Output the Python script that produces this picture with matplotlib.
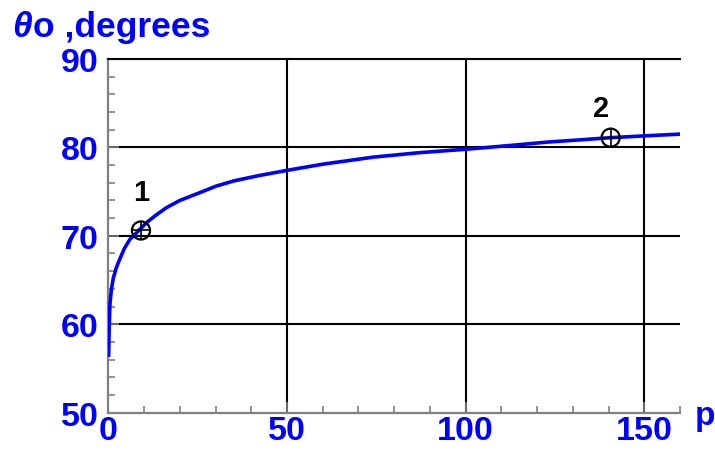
import numpy as np
import matplotlib
matplotlib.use("Agg")
import matplotlib.pyplot as plt
from matplotlib.ticker import MultipleLocator

# curve
p_vals = [0.05, 0.2, 0.4, 0.8, 1.35, 2.2, 3.2, 4.5, 6.0, 7.5, 8.8, 11.0, 13.5, 16.3, 20.0,
          25.7, 30.0, 35.0, 42.0, 50.0, 60.0, 74.2, 87.0, 100.4, 112.0, 122.9, 132.0,
          140.6, 150.0, 160.0]
theta_vals = [56.5, 59.6, 62.2, 63.9, 65.2, 66.4, 67.4, 68.6, 69.6, 70.2, 70.75, 71.6, 72.4,
              73.2, 74.0, 74.9, 75.6, 76.2, 76.8, 77.4, 78.1, 78.9, 79.4, 79.8, 80.2,
              80.6, 80.85, 81.1, 81.3, 81.5]

# marked points
pt_p = [9.1, 140.6]
pt_theta = [70.6, 81.1]
pt_labels = ["1", "2"]
lab_p = [9.2, 138.0]
lab_theta = [75.0, 84.4]

x_ticks = [0, 50, 100, 150]
y_ticks = [50, 60, 70, 80, 90]

blue = "#0000ff"
plt.rcParams['font.family'] = ['Liberation Sans', 'DejaVu Sans']

fig = plt.figure(figsize=(7.15, 4.52), dpi=100)
ax = fig.add_axes([0.1517, 0.085, 0.7993, 0.7823])

ax.plot(p_vals, theta_vals, color=blue, lw=2.6, solid_joinstyle="round", zorder=3)

# markers: circle with a plus inside
ax.scatter(pt_p, pt_theta, s=170, facecolor="none", edgecolor="black", linewidth=1.6, zorder=4)
ax.scatter(pt_p, pt_theta, s=170, marker="+", color="black", linewidth=1.2, zorder=4)
for px, py, lab in zip(lab_p, lab_theta, pt_labels):
    ax.text(px, py, lab, ha="center", va="center", fontsize=21,
            fontweight="bold", color="black")

ax.set_xlim(0, 160)
ax.set_ylim(50, 90)
ax.xaxis.set_minor_locator(MultipleLocator(10))
ax.yaxis.set_minor_locator(MultipleLocator(2))

# grid lines in black
for gx in x_ticks[1:]:
    ax.axvline(gx, color="black", lw=1.5, zorder=1)
for gy in y_ticks[1:-1]:
    ax.axhline(gy, color="black", lw=1.5, zorder=1)

ax.spines["right"].set_visible(False)
ax.spines["top"].set_color("black")
ax.spines["top"].set_linewidth(1.5)
for s in ["left", "bottom"]:
    ax.spines[s].set_color("#808080")
    ax.spines[s].set_linewidth(1.6)

ax.tick_params(which="both", direction="in", color="#808080", width=1.2,
               top=False, right=False)
ax.tick_params(axis="x", which="major", length=8, pad=2)
ax.tick_params(axis="y", which="major", length=8, pad=7)
ax.tick_params(which="minor", length=5)

tick_font = dict(fontsize=24.5, fontweight="bold", color=blue)
ax.set_xticks(x_ticks)
ax.set_xticklabels([str(v) for v in x_ticks], **tick_font)
ax.set_yticks(y_ticks)
ax.set_yticklabels([str(v) for v in y_ticks], **tick_font)

# axis titles
th = fig.text(0.017, 0.918, "θ", fontsize=25.5, fontweight="bold", fontstyle="italic",
              color=blue, ha="left", va="baseline")
ax.annotate("o ,degrees", xy=(1, 0), xycoords=th, xytext=(1, 0), textcoords="offset points",
            fontsize=25.5, fontweight="bold", color=blue, ha="left", va="bottom")
fig.text(0.971, 0.06, "p", fontsize=24, fontweight="bold", color=blue,
         ha="left", va="baseline")

fig.savefig("out.png", dpi=100)
